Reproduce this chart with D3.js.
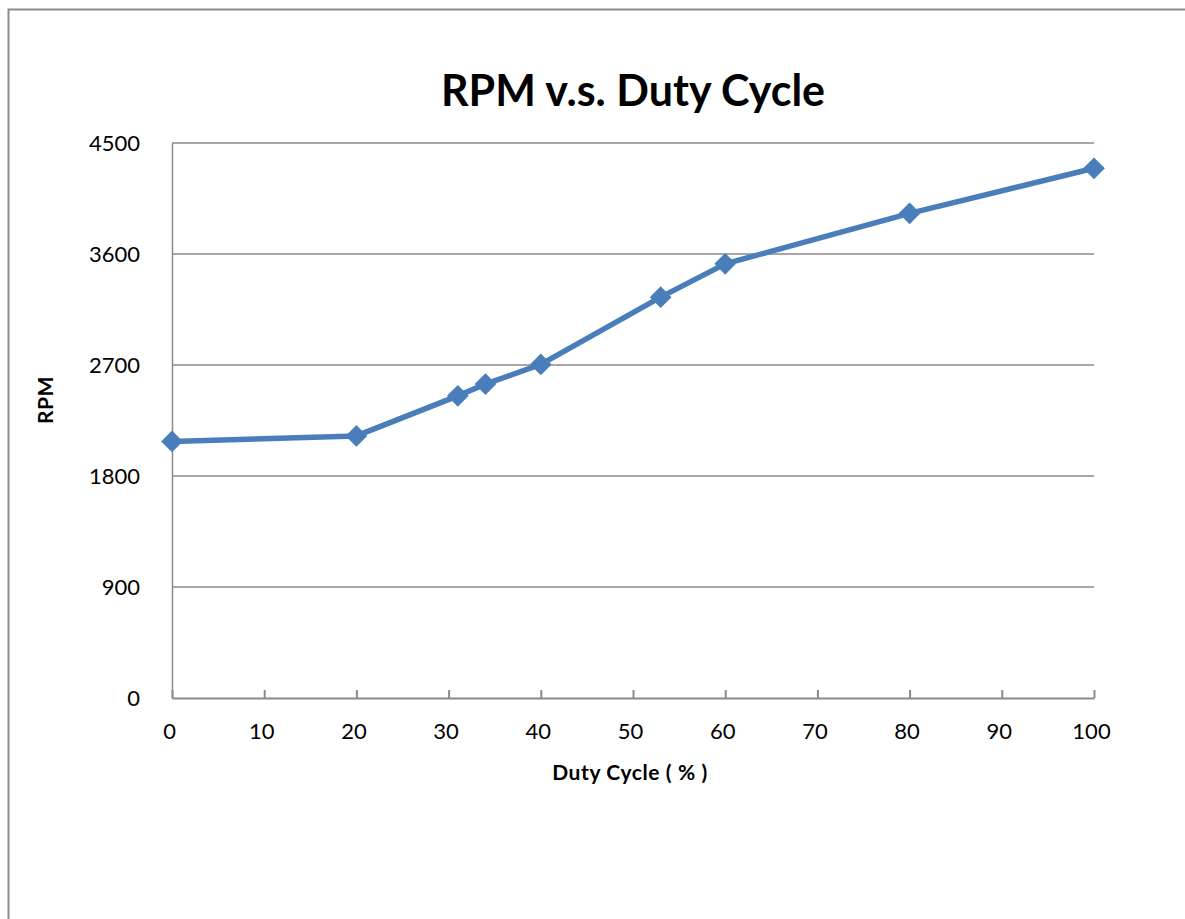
<!DOCTYPE html>
<html>
<head>
  <script src="https://d3js.org/d3.v7.min.js"></script>
  <style>
    html, body { margin: 0px; padding: 0px; background: white; }
    text { font-family: Lato, "Open Sans", sans-serif; fill: black; }
    .tickLabel { font-size: 22px; }
    .axisLabel { font-size: 21px; font-weight: bold; letter-spacing: 0.6px; }
  </style>
</head>
<body>
  <script>
    // data
    const dutyCycle = [0, 20, 31, 34, 40, 53, 60, 80, 100];
    const rpm = [2080, 2125, 2450, 2545, 2705, 3250, 3520, 3930, 4295];
    const yTicks = [0, 900, 1800, 2700, 3600, 4500];
    const xTicks = [0, 10, 20, 30, 40, 50, 60, 70, 80, 90, 100];

    const width = 1185;
    const height = 919;
    const margin = {top: 143, left: 172, right: 91, bottom: 221};

    const svg = d3.select("body")
      .append("svg")
      .attr("width", width)
      .attr("height", height);

    // outer chart frame
    svg.append("rect")
      .attr("x", 8.5).attr("y", 9.5)
      .attr("width", 1200).attr("height", 1000)
      .attr("fill", "none")
      .attr("stroke", "#8c8c8c")
      .attr("stroke-width", 2);

    const xScale = d3.scaleLinear()
      .domain([0, 100])
      .range([margin.left, width - margin.right]);

    const yScale = d3.scaleLinear()
      .domain([0, 4500])
      .range([height - margin.bottom, margin.top]);

    // gridlines
    svg.selectAll("line.grid")
      .data(yTicks.filter(d => d > 0))
      .enter()
      .append("line")
      .attr("class", "grid")
      .attr("x1", xScale(0)).attr("x2", xScale(100))
      .attr("y1", d => yScale(d)).attr("y2", d => yScale(d))
      .attr("stroke", "#8a8a8a")
      .attr("stroke-width", 1.5);

    // y axis
    const yAxis = svg.append("g")
      .attr("transform", `translate(${margin.left},0)`)
      .call(d3.axisLeft(yScale).tickValues(yTicks).tickFormat(d3.format("d")).tickSize(0).tickPadding(32));
    yAxis.select(".domain").attr("stroke", "#8a8a8a").attr("stroke-width", 1.5);
    yAxis.selectAll("text").attr("class", "tickLabel").attr("font-family", null).attr("font-size", null);

    // x axis, ticks pointing up
    const xAxis = svg.append("g")
      .attr("transform", `translate(0,${height - margin.bottom})`)
      .call(d3.axisBottom(xScale).tickValues(xTicks).tickSizeInner(-8).tickSizeOuter(0).tickPadding(25));
    xAxis.select(".domain").attr("stroke", "#8a8a8a").attr("stroke-width", 2);
    xAxis.selectAll(".tick line").attr("stroke", "#8a8a8a").attr("stroke-width", 2);
    xAxis.selectAll("text").attr("class", "tickLabel").attr("font-family", null).attr("font-size", null)
      .attr("dx", "-3");

    const points = dutyCycle.map((d, i) => ({x: d, y: rpm[i]}));

    const line = d3.line()
      .x(d => xScale(d.x))
      .y(d => yScale(d.y));

    svg.append("path")
      .datum(points)
      .attr("d", line)
      .attr("fill", "none")
      .attr("stroke", "#4a7ebb")
      .attr("stroke-width", 5.5)
      .attr("stroke-linejoin", "round");

    svg.selectAll("path.marker")
      .data(points)
      .enter()
      .append("path")
      .attr("class", "marker")
      .attr("d", d3.symbol().type(d3.symbolDiamond2).size(300))
      .attr("transform", d => `translate(${xScale(d.x)},${yScale(d.y)})`)
      .attr("fill", "#4a7ebb");

    // title and axis labels
    svg.append("text")
      .attr("x", 633).attr("y", 106)
      .attr("text-anchor", "middle")
      .attr("font-size", "43px")
      .attr("font-weight", "bold")
      .text("RPM v.s. Duty Cycle");

    svg.append("text")
      .attr("class", "axisLabel")
      .attr("x", 630).attr("y", 780)
      .attr("text-anchor", "middle")
      .text("Duty Cycle ( % )");

    svg.append("text")
      .attr("class", "axisLabel")
      .attr("transform", "translate(53,400) rotate(-90)")
      .attr("text-anchor", "middle")
      .text("RPM");
  </script>
</body>
</html>
